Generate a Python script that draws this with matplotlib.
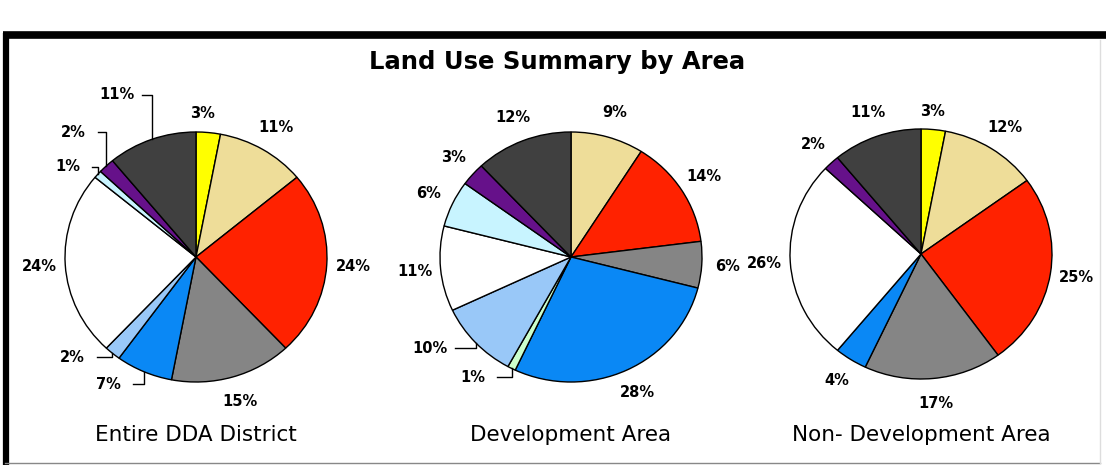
import numpy as np
import matplotlib
matplotlib.use("Agg")
import matplotlib.pyplot as plt

# categories clockwise from 12 o'clock
categories = ['yellow', 'tan', 'red', 'gray', 'blue', 'pale green',
              'light blue', 'white', 'cyan', 'purple', 'dark']
colors = ['#FFFF00', '#EEDD99', '#FF2200', '#858585', '#0A88F5', '#CCFFCC',
          '#99C8F8', '#FFFFFF', '#C8F4FF', '#66118A', '#404040']

entire_dda = [3, 11, 24, 15, 7, 0, 2, 24, 1, 2, 11]
development = [0, 9, 14, 6, 28, 1, 10, 11, 6, 3, 12]
non_development = [3, 12, 25, 17, 4, 0, 0, 26, 0, 2, 11]

titles = ['Entire DDA District', 'Development Area', 'Non- Development Area']
main_title = 'Land Use Summary by Area'

W, H = 1106, 465
fig = plt.figure(figsize=(W / 100, H / 100), dpi=100)

# background axes in pixel coords for the frame
bg = fig.add_axes([0, 0, 1, 1])
bg.set_xlim(0, W)
bg.set_ylim(H, 0)
bg.axis('off')
bg.plot([3, W], [35.5, 35.5], color='black', lw=5.5, solid_capstyle='butt')
bg.plot([5.5, 5.5], [33, H], color='black', lw=4.5, solid_capstyle='butt')
bg.plot([5, 1100], [463, 463], color='#888888', lw=1)
bg.plot([1100, 1100], [40, 463], color='#DDDDDD', lw=1)

fig.text(557 / W, 1 - 62 / H, main_title, ha='center', va='center',
         fontsize=17.5, fontweight='bold', family='DejaVu Sans')

# pie layout: center (px), radii (px), label tweaks {idx: (radius, angle nudge, leader)}
centers = [(196, 257), (571, 257), (921, 254)]
rx, ry = 131, 125
tweaks = [
    {0: (1.15, -3, False), 4: (1.22, 10, True), 6: (1.24, 10, True),
     8: (1.22, -5, True), 9: (1.37, 0, True), 10: (1.43, -5, True)},
    {5: (1.22, 11, True), 6: (1.30, 9, True)},
    {0: (1.14, -1, False)},
]

for k, vals in enumerate([entire_dda, development, non_development]):
    cx, cy = centers[k]
    ax = fig.add_axes([(cx - rx) / W, (H - cy - ry) / H, 2 * rx / W, 2 * ry / H])
    idx = [i for i, v in enumerate(vals) if v > 0]
    v = [vals[i] for i in idx]
    c = [colors[i] for i in idx]
    ax.pie(v, colors=c, startangle=90, counterclock=False, radius=1,
           wedgeprops=dict(edgecolor='black', linewidth=1))
    ax.set_aspect('auto')
    ax.set_xlim(-1, 1)
    ax.set_ylim(-1, 1)
    ax.axis('off')

    cum = np.cumsum([0] + v)
    for j, i in enumerate(idx):
        mid = (cum[j] + cum[j + 1]) / 2 / 100 * 360
        r, dang, leader = tweaks[k].get(i, (1.2, 0, False))
        a = np.deg2rad(mid + dang)
        lx, ly = r * np.sin(a), r * np.cos(a)
        ax.text(lx, ly, f'{vals[i]}%', ha='center', va='center', fontsize=10.5,
                fontweight='bold', family='DejaVu Sans', clip_on=False)
        if leader:
            m = np.deg2rad(mid)
            ex, ey = np.sin(m), np.cos(m)
            tx = lx + 0.19 if lx < ex else lx - 0.19
            ax.plot([tx, ex, ex], [ly, ly, ey], color='black', lw=1, clip_on=False)

    fig.text(cx / W, 1 - 435 / H, titles[k], ha='center', va='center',
             fontsize=15.5, family='DejaVu Sans')

fig.savefig('out.png', dpi=100)
